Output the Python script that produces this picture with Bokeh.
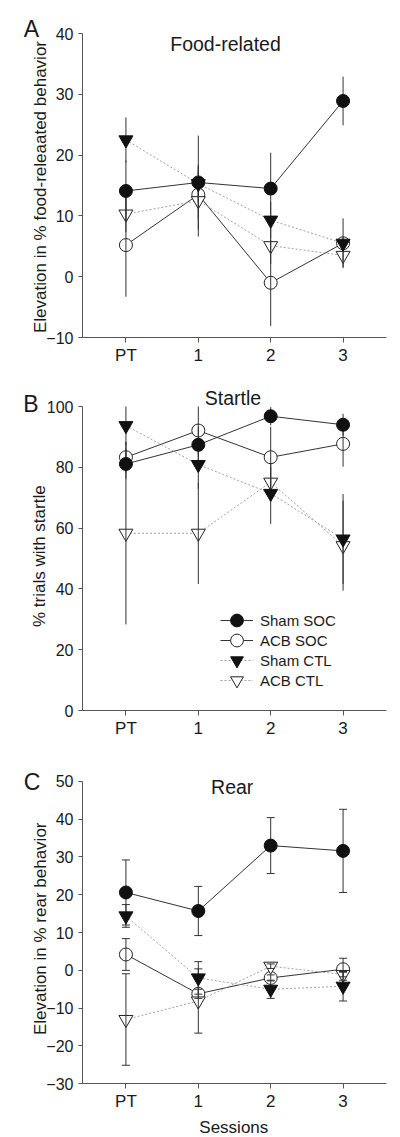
import math
from bokeh.plotting import figure
from bokeh.models import Range1d, FixedTicker, Label, Legend, LegendItem
from bokeh.layouts import column
from bokeh.embed import file_html
from bokeh.resources import INLINE
from bokeh.core.properties import value

# ---------------- data ----------------
sessions = ["PT", "1", "2", "3"]
series_names = ["Sham SOC", "ACB SOC", "Sham CTL", "ACB CTL"]

# Panel A: Food-related (elevation in %)
food_sham_soc = [14.1, 15.5, 14.5, 28.9]
food_sham_soc_err = [5.0, 7.7, 5.9, 4.0]
food_acb_soc = [5.2, 13.5, -1.0, 5.5]
food_acb_soc_err = [8.5, 4.0, 7.1, 4.1]
food_sham_ctl = [22.5, 15.3, 9.3, 5.5]
food_sham_ctl_err = [3.7, 3.0, 3.0, 1.0]
food_acb_ctl = [10.3, 12.5, 5.1, 3.5]
food_acb_ctl_err = [3.0, 5.9, 3.0, 1.9]
food_yticks = [-10, 0, 10, 20, 30, 40]

# Panel B: Startle (% trials with startle)
startle_sham_soc = [81.1, 87.4, 96.8, 94.0]
startle_sham_soc_err = [5.0, 6.0, 3.0, 3.6]
startle_acb_soc = [83.3, 92.1, 83.3, 87.7]
startle_acb_soc_err = [5.0, 7.9, 10.0, 7.5]
startle_sham_ctl = [93.7, 80.9, 71.4, 56.4]
startle_sham_ctl_err = [6.3, 8.0, 10.0, 14.8]
startle_acb_ctl = [58.3, 58.3, 75.1, 54.2]
startle_acb_ctl_err = [30.0, 16.7, 5.0, 14.8]
startle_yticks = [0, 20, 40, 60, 80, 100]

# Panel C: Rear (elevation in %)
rear_sham_soc = [20.6, 15.7, 33.0, 31.6]
rear_sham_soc_err = [8.6, 6.5, 7.4, 11.0]
rear_acb_soc = [4.2, -6.2, -2.0, 0.3]
rear_acb_soc_err = [4.2, 1.2, 0.8, 2.9]
rear_sham_ctl = [14.4, -2.0, -5.0, -4.2]
rear_sham_ctl_err = [3.0, 4.3, 2.4, 3.9]
rear_acb_ctl = [-13.0, -8.1, 1.1, -1.1]
rear_acb_ctl_err = [12.1, 8.5, 0.6, 0.6]
rear_yticks = [-30, -20, -10, 0, 10, 20, 30, 40, 50]

# ---------------- styles / layout ----------------
FONT = "Liberation Sans"
TXT = "#1a1a1a"
AX = "#555555"
W = 400
AX_L, AX_R = 82, 386          # x pixel extent of the axis box
X_MIN, X_MAX = -0.6, 3.6      # x extent of the axis box (session index units)

STY = {
    "Sham SOC": dict(marker="circle", size=13, fill="#111111", edge="#111111",
                     conn="#333333", dash="solid", open=False),
    "ACB SOC": dict(marker="circle", size=13, fill="white", edge="#222222",
                    conn="#333333", dash="solid", open=True),
    "Sham CTL": dict(marker="inverted_triangle", size=14, fill="#111111", edge="#111111",
                     conn="#a0a0a0", dash="2 2", open=False),
    "ACB CTL": dict(marker="inverted_triangle", size=14, fill="white", edge="#222222",
                    conn="#a0a0a0", dash="2 2", open=True),
}


def make_panel(page_top, H, ax_top_page, ax_bot_page, ymin, ymax, yticks, series, caps,
               texts, legend_rows=None):
    top = ax_top_page - page_top
    bot = ax_bot_page - page_top
    dpp = (ymax - ymin) / (bot - top)
    yr = Range1d(ymin - (H - bot) * dpp, ymax + top * dpp)
    dpx = (X_MAX - X_MIN) / (AX_R - AX_L)
    xr = Range1d(X_MIN - AX_L * dpx, X_MAX + (W - AX_R) * dpx)

    def scr(px, py):
        return px, H - (py - page_top)

    p = figure(width=W, height=H, x_range=xr, y_range=yr,
               output_backend="svg", toolbar_location=None,
               min_border=0, min_border_left=0, min_border_right=0,
               min_border_top=0, min_border_bottom=0)
    p.outline_line_color = None
    p.xgrid.grid_line_color = None
    p.ygrid.grid_line_color = None
    p.background_fill_color = "white"
    p.border_fill_color = "white"

    xs = list(range(len(sessions)))
    xa = p.xaxis[0]
    ya = p.yaxis[0]
    xa.fixed_location = ymin
    xa.bounds = (X_MIN, X_MAX)
    xa.ticker = FixedTicker(ticks=xs)
    xa.major_label_overrides = {i: s for i, s in zip(xs, sessions)}
    ya.fixed_location = X_MIN
    ya.bounds = (ymin, ymax)
    ya.ticker = FixedTicker(ticks=yticks)
    for ax in (xa, ya):
        ax.axis_line_color = AX
        ax.axis_line_width = 1
        ax.major_tick_line_color = AX
        ax.major_tick_in = 0
        ax.minor_tick_line_color = None
        ax.major_label_text_font = FONT
        ax.major_label_text_color = TXT
    xa.major_tick_out = 5
    xa.major_label_text_font_size = "17px"
    xa.major_label_standoff = 3
    ya.major_tick_out = 4
    ya.major_label_text_font_size = "16px"
    ya.major_label_standoff = 5

    line_r = {}
    mark_r = {}
    for name in series_names:
        vals, errs = series[name]
        s = STY[name]
        line_r[name] = p.line(xs, vals, line_color=s["conn"], line_width=1,
                              line_dash=s["dash"])
    for name in series_names:
        s = STY[name]
        if s["open"]:
            vals, errs = series[name]
            mark_r[name] = p.scatter(xs, vals, marker=s["marker"], size=s["size"],
                                     fill_color=s["fill"], line_color=s["edge"],
                                     line_width=1)
    for name in series_names:
        vals, errs = series[name]
        lo = [v - e for v, e in zip(vals, errs)]
        hi = [v + e for v, e in zip(vals, errs)]
        p.segment(x0=xs, y0=lo, x1=xs, y1=hi, line_color="#333333", line_width=1)
        if caps:
            p.scatter(xs, lo, marker="dash", size=8, line_color="#333333", line_width=1)
            p.scatter(xs, hi, marker="dash", size=8, line_color="#333333", line_width=1)
    for name in ["Sham CTL", "Sham SOC"]:
        vals, errs = series[name]
        s = STY[name]
        mark_r[name] = p.scatter(xs, vals, marker=s["marker"], size=s["size"],
                                 fill_color=s["fill"], line_color=s["edge"],
                                 line_width=1)

    for (txt, px, py, size, align, angle) in texts:
        sx, sy = scr(px, py)
        p.add_layout(Label(x=sx, y=sy, x_units="screen", y_units="screen", text=txt,
                           text_font=FONT, text_font_size=size, text_color=TXT,
                           text_align=align, text_baseline="alphabetic", angle=angle))

    if legend_rows is not None:
        gx, centers = legend_rows
        for name, cy in zip(series_names, centers):
            lx, ly = scr(gx, cy + 16)
            leg = Legend(items=[LegendItem(label=value(name),
                                           renderers=[line_r[name], mark_r[name]])],
                         location=(lx, ly), glyph_width=33, glyph_height=32,
                         spacing=0, padding=0, margin=0, label_standoff=7,
                         label_height=20, label_text_font=FONT,
                         label_text_font_size="15px", label_text_color=TXT,
                         border_line_color=None, background_fill_alpha=0)
            p.add_layout(leg)
    return p


V = math.pi / 2
pA = make_panel(0, 370, 33, 337, -10, 40, food_yticks,
                {"Sham SOC": (food_sham_soc, food_sham_soc_err),
                 "ACB SOC": (food_acb_soc, food_acb_soc_err),
                 "Sham CTL": (food_sham_ctl, food_sham_ctl_err),
                 "ACB CTL": (food_acb_ctl, food_acb_ctl_err)},
                False,
                [("A", 23.3, 28.3, "23px", "left", 0),
                 ("Food-related", 225, 43.3, "19.5px", "center", 0),
                 ("Elevation in % food-releaated behavior", 40, 186.5, "17px", "center", V)])

pB = make_panel(370, 370, 406, 710, 0, 100, startle_yticks,
                {"Sham SOC": (startle_sham_soc, startle_sham_soc_err),
                 "ACB SOC": (startle_acb_soc, startle_acb_soc_err),
                 "Sham CTL": (startle_sham_ctl, startle_sham_ctl_err),
                 "ACB CTL": (startle_acb_ctl, startle_acb_ctl_err)},
                False,
                [("B", 22.7, 403.3, "23px", "left", 0),
                 ("Startle", 232.5, 397.7, "19.5px", "center", 0),
                 ("% trials with startle", 38.8, 555.7, "17px", "center", V)],
                legend_rows=(220, [620, 640, 660, 680]))

pC = make_panel(740, 397, 780.8, 1083.3, -30, 50, rear_yticks,
                {"Sham SOC": (rear_sham_soc, rear_sham_soc_err),
                 "ACB SOC": (rear_acb_soc, rear_acb_soc_err),
                 "Sham CTL": (rear_sham_ctl, rear_sham_ctl_err),
                 "ACB CTL": (rear_acb_ctl, rear_acb_ctl_err)},
                True,
                [("C", 23.3, 781.7, "23px", "left", 0),
                 ("Rear", 231.7, 786.7, "19.5px", "center", 0),
                 ("Elevation in % rear behavior", 40, 928.3, "17px", "center", V),
                 ("Sessions", 233.3, 1126.5, "17px", "center", 0)])

layout = column(pA, pB, pC, spacing=0)
open("out.html", "w").write(file_html(layout, INLINE))
